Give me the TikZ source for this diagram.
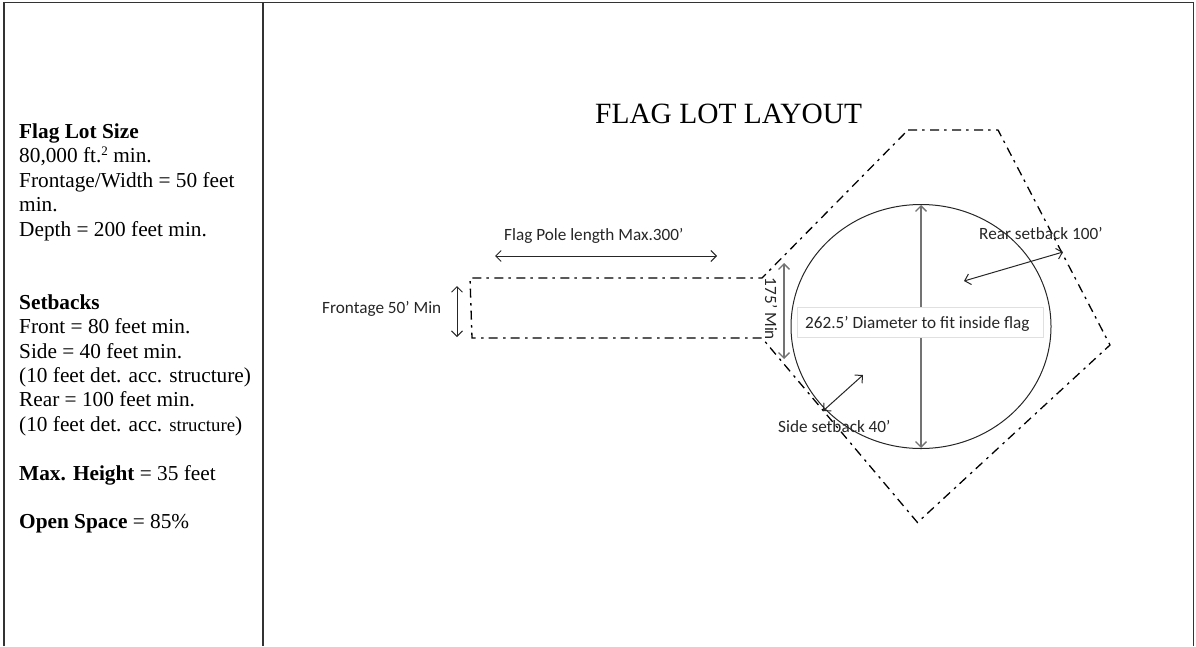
\documentclass[tikz,border=0pt]{standalone}
\usepackage{fontspec}
\setmainfont{Liberation Serif}
\newfontfamily\calibrifont{Carlito}
\usetikzlibrary{arrows.meta}
\tikzset{
 x=1pt,y=-1pt,
 frameline/.style={line width=1.2pt,draw=black!80},
 lot/.style={line width=1.3pt,draw=black,dash pattern=on 9pt off 5pt on 2.5pt off 5.5pt},
 dim/.style={line width=1pt,draw=black!85,{Straight Barb[length=5.5pt,width=11pt]}-{Straight Barb[length=5.5pt,width=11pt]}},
 greydim/.style={dim,draw=black!55,line width=1.3pt},
 lbl/.style={font=\calibrifont\fontsize{17.2}{20}\selectfont,text=black!85,inner sep=0pt,anchor=base west},
}
\begin{document}
\begin{tikzpicture}
\useasboundingbox (0,0) rectangle (1196,646);
\coordinate (tl) at (4,2.5); \coordinate (tr) at (1193.5,2.5);
\coordinate (bl) at (4,646); \coordinate (br) at (1193.5,646);
\coordinate (mt) at (263,2.5); \coordinate (mb) at (263,646);
\draw[frameline] (bl) -- (tl) -- (tr) -- (br);
\draw[frameline] (mt) -- (mb);
\node[anchor=north west,inner sep=0pt,align=left,font=\fontsize{21.3}{24.4}\selectfont] (info) at (19,123.5) {%
\textbf{Flag Lot Size}\\
80,000 ft.\raisebox{7pt}{\fontsize{13}{12}\selectfont 2} min.\\
Frontage/Width = 50 feet\\
min.\\
Depth = 200 feet min.\\
\mbox{}\\
\mbox{}\\
\textbf{Setbacks}\\
Front = 80 feet min.\\
Side = 40 feet min.\\
(10 feet det. acc. structure)\\
Rear = 100 feet min.\\
(10 feet det. acc. {\fontsize{18.8}{24.4}\selectfont structure})\\
\mbox{}\\
\textbf{Max. Height} = 35 feet\\
\mbox{}\\
\textbf{Open Space} = 85\%};
\node[anchor=base west,inner sep=0pt,font=\fontsize{29.4}{32}\selectfont] (title) at (595,123) {FLAG LOT LAYOUT};
% lot outline
\coordinate (p1) at (762,278); \coordinate (p2) at (470,278); \coordinate (p3) at (472,338); \coordinate (p4) at (762,338);
\coordinate (f1) at (908,130); \coordinate (f2) at (998,130); \coordinate (f3) at (1110,345); \coordinate (f4) at (917.5,522.5);
\draw[lot,line join=miter] (f1) -- (f2) -- (f3) -- (f4) -- (p4) -- (p3) -- (p2) -- (p1) -- cycle;
% circle
\draw[line width=1pt,draw=black!85] (921,326.5) ellipse [x radius=130,y radius=122];
% diameter
\coordinate (dt) at (921,205); \coordinate (db) at (921,448);
\draw[greydim] (dt) -- (db);
\node[draw=black!12,line width=0.8pt,fill=white,minimum width=246pt,minimum height=30pt,inner sep=0pt] (dia) at (920,322) {};
\node[lbl] (dial) at (805,328) {262.5’ Diameter to fit inside flag};
% dims
\coordinate (a1) at (495,256); \coordinate (a2) at (717,256);
\draw[dim] (a1) -- (a2);
\coordinate (b1) at (457,286); \coordinate (b2) at (457,337);
\draw[dim] (b1) -- (b2);
\coordinate (c1) at (784,263); \coordinate (c2) at (784,359);
\draw[greydim] (c1) -- (c2);
\coordinate (d1) at (964,281); \coordinate (d2) at (1063,252);
\draw[dim] (d1) -- (d2);
\coordinate (e1) at (823,411); \coordinate (e2) at (863,375);
\draw[dim] (e1) -- (e2);
% labels
\node[lbl] (fp) at (504,240.5) {Flag Pole length Max.300’};
\node[lbl] (fr) at (322,313) {Frontage 50’ Min};
\node[lbl] (rs) at (979,239) {Rear setback 100’};
\node[lbl] (ss) at (778,432.5) {Side setback 40’};
\node[lbl,anchor=base,rotate=-90] (mn) at (765,309) {175’ Min};
\end{tikzpicture}
\end{document}
